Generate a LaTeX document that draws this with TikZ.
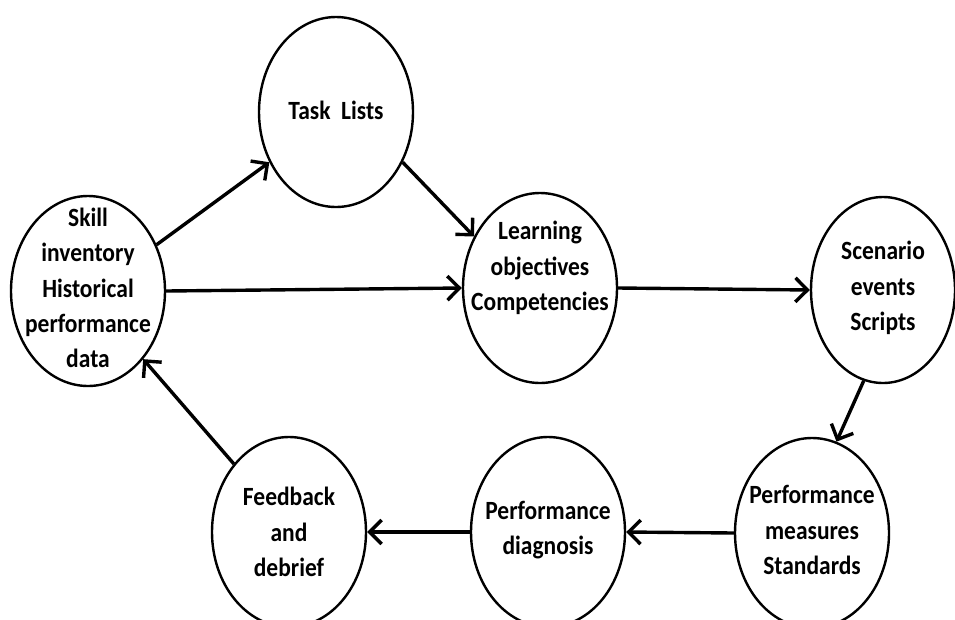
\documentclass[tikz,border=0pt]{standalone}
\usepackage{fontspec}
\setmainfont{Carlito}
\usetikzlibrary{shapes.geometric,arrows.meta}
% stage text, set a little taller than wide
\newcommand{\stagetext}[1]{\scalebox{1}[1.12]{\begin{tabular}{@{}c@{}}#1\end{tabular}}}
\begin{document}
\begin{tikzpicture}[x=1pt,y=-1pt,
  bubble/.style={draw, ellipse, line width=2.4pt, minimum width=154pt,
    minimum height=190pt, inner sep=0pt},
  caption/.style={inner sep=0pt,
    font=\fontsize{23.5}{31.3}\selectfont\bfseries},
  flow/.style={line width=3.4pt, -{Straight Barb[length=12pt,width=24pt]}}]
\useasboundingbox[fill=white] (0,0) rectangle (955,619);

% stages of the cycle
\node[bubble] (skill) at (88,291) {};
\node[bubble] (task)  at (336,112) {};
\node[bubble] (learn) at (540,288) {};
\node[bubble, minimum width=144pt, minimum height=186pt] (scen) at (883,290) {};
\node[bubble] (meas)  at (812,533) {};
\node[bubble] (diag)  at (548,532) {};
\node[bubble] (feed)  at (289,532) {};

% their texts
\node[caption] (skilltxt) at (88,290) {\stagetext{Skill\\inventory\\Historical\\performance\\data}};
\node[caption] (tasktxt)  at (336,112) {\stagetext{Task\hspace{0.45em}Lists}};
\node[caption] (learntxt) at (540,268) {\stagetext{Learning\\objectives\\Competencies}};
\node[caption] (scentxt)  at (883,288) {\stagetext{Scenario\\events\\Scripts}};
\node[caption] (meastxt)  at (812,532) {\stagetext{Performance\\measures\\Standards}};
\node[caption] (diagtxt)  at (548,530) {\stagetext{Performance\\diagnosis}};
\node[caption] (feedtxt)  at (289,534) {\stagetext{Feedback\\and\\debrief}};

% connectors
\draw[flow] (skill.34)  -- (task.217);
\draw[flow] (task.-37)  -- (learn.142);
\draw[flow] (skill.east) -- (learn.west);
\draw[flow] (learn.east) -- (scen.west);
\draw[flow] (scen.258)  -- (meas.75);
\draw[flow] (meas.west) -- (diag.east);
\draw[flow] (diag.west) -- (feed.east);
\draw[flow] (feed.129)  -- (skill.-51);
\end{tikzpicture}
\end{document}
